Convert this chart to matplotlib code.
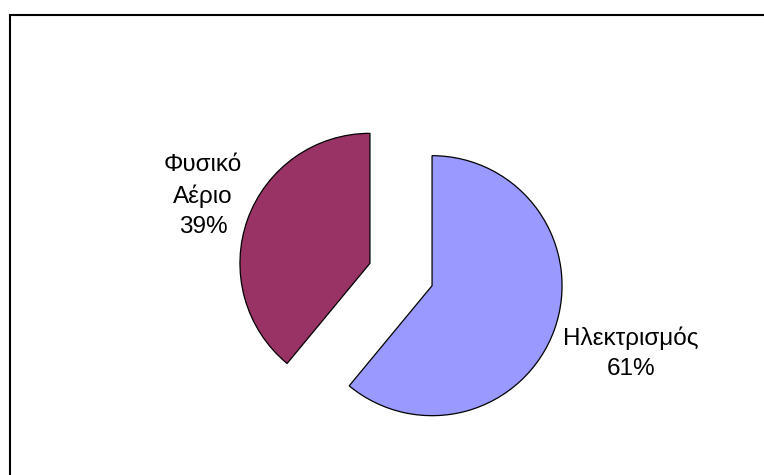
import matplotlib
matplotlib.use("Agg")
import matplotlib.pyplot as plt

# Energy source shares
categories = ["Ηλεκτρισμός", "Φυσικό\nΑέριο"]
shares = [61, 39]
colors = ["#9999FF", "#993366"]

W, H = 764, 475
plt.rcParams["font.family"] = ["Liberation Sans", "DejaVu Sans"]

fig = plt.figure(figsize=(W / 100, H / 100), dpi=100)
ax = fig.add_axes([0, 0, 1, 1])

labels = [f"{c}\n{s}%" for c, s in zip(categories, shares)]
wedges, texts = ax.pie(
    shares,
    labels=labels,
    colors=colors,
    startangle=90,
    counterclock=False,
    center=(401, H - 274.5),
    radius=130,
    explode=[33, 33],
    wedgeprops=dict(edgecolor="black", linewidth=0.9),
    textprops=dict(fontsize=17.5, linespacing=1.45, ha="center", va="center",
                   family=["Liberation Sans", "DejaVu Sans"]),
    frame=True,
)
ax.set_xlim(0, W)
ax.set_ylim(0, H)
ax.set_aspect("equal")
ax.axis("off")

texts[0].set_position((631, H - 353))
texts[0].set_ha("center")
texts[1].set_position((203, H - 196))
texts[1].set_ha("center")

# chart-area border (top and left edges)
ax.plot([9.5, 9.5, W + 5], [-5, H - 14.5, H - 14.5], color="black",
        linewidth=1.5, clip_on=False, solid_joinstyle="miter")

fig.savefig("out.png", dpi=100)
